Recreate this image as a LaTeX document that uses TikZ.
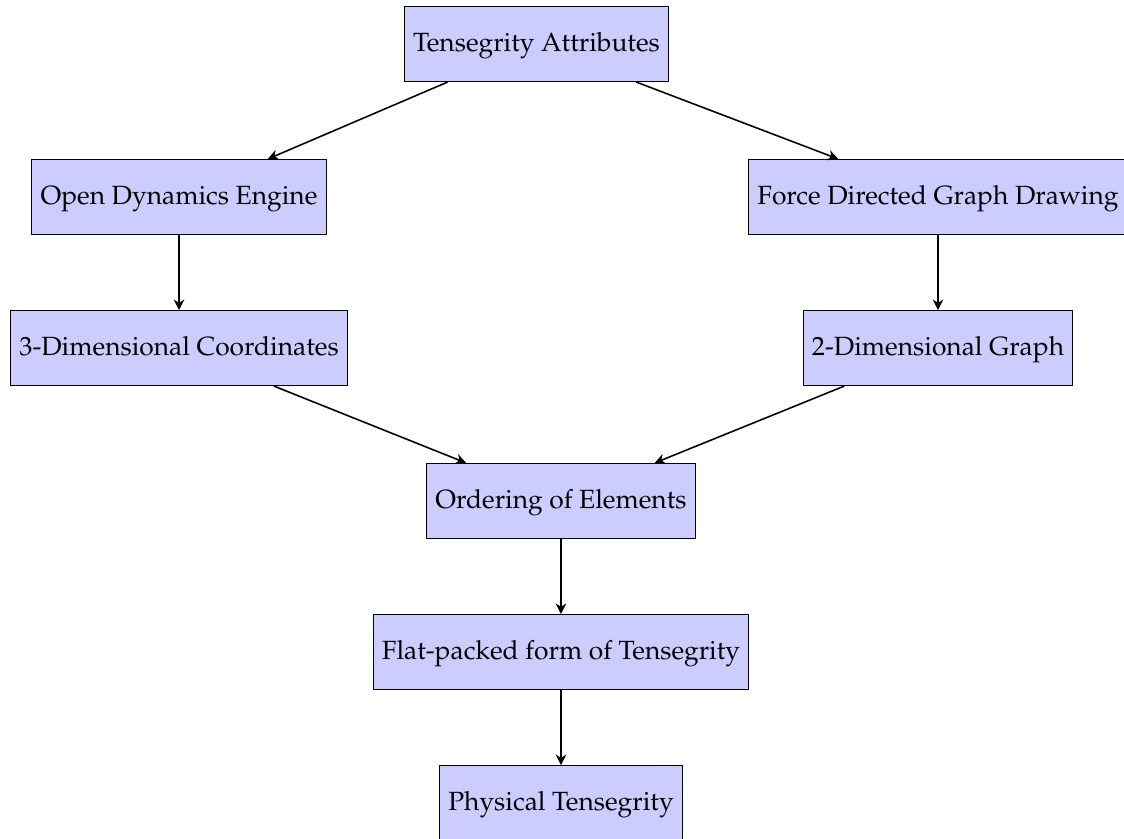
\documentclass[tikz,border=0pt]{standalone}
\usepackage[T1]{fontenc}
\usepackage{mathpazo}
\usepackage{tikz}
\usetikzlibrary{arrows.meta,positioning}

\begin{document}
\begin{tikzpicture}[
  node distance=1cm,
  stage/.style={draw, fill=blue!20, minimum height=1cm,
                text height=1.6ex, text depth=0.45ex},
  arr/.style={-{Stealth[length=4pt, width=4pt]}, semithick},
]
\useasboundingbox (0,0) rectangle (14.987,-11.187);
\node[stage] (attr) at (7.153,-0.587) {Tensegrity Attributes};
\node[stage] (ode) at (2.387,-2.627) {Open Dynamics Engine};
\node[stage] (fdg) at (12.507,-2.627) {Force Directed Graph Drawing};
\node[stage, below=of ode] (coords) {3-Dimensional Coordinates};
\node[stage, below=of fdg] (graph) {2-Dimensional Graph};
\node[stage] (order) at (7.48,-6.68) {Ordering of Elements};
\node[stage, below=of order] (flat) {Flat-packed form of Tensegrity};
\node[stage, below=of flat] (phys) {Physical Tensegrity};
\draw[arr] (attr) -- (ode);
\draw[arr] (attr) -- (fdg);
\draw[arr] (ode) -- (coords);
\draw[arr] (fdg) -- (graph);
\draw[arr] (coords) -- (order);
\draw[arr] (graph) -- (order);
\draw[arr] (order) -- (flat);
\draw[arr] (flat) -- (phys);
\end{tikzpicture}
\end{document}
